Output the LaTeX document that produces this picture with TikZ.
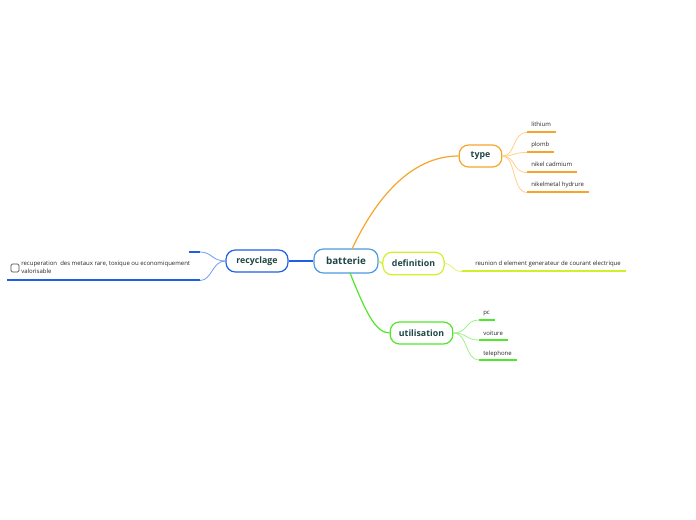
\documentclass[tikz,border=0pt]{standalone}
\usepackage{fontspec}
\setmainfont{Open Sans}
\begin{document}
\begin{tikzpicture}[x=0.75pt,y=-0.75pt,
  mainbox/.style={draw, line width=0.9pt, rounded corners=7pt, fill=white, text=txtc, font=\fontsize{6.6}{8}\selectfont\bfseries, inner sep=0pt},
  leaf/.style={font=\fontsize{4.5}{5.6}\selectfont, text=black!85, anchor=base west, inner sep=0pt},
  ul/.style={line width=1.5pt},
  lc/.style={line width=0.6pt}]
\definecolor{txtc}{HTML}{1E4646}
\definecolor{cblue}{HTML}{4A9AE0}
\definecolor{rblue}{HTML}{1F5FE6}
\definecolor{lblue}{HTML}{6E9CF0}
\definecolor{corange}{HTML}{F7A52A}
\definecolor{lorange}{HTML}{FFD18A}
\definecolor{cyel}{HTML}{D2F02A}
\definecolor{lyel}{HTML}{E2F47A}
\definecolor{cgreen}{HTML}{4EE82A}
\definecolor{lgreen}{HTML}{9FF08A}
\useasboundingbox (0,0) rectangle (696,520);

% main nodes
\node[mainbox, draw=cblue, minimum width=48pt, minimum height=18pt, font=\fontsize{7.4}{9}\selectfont\bfseries] (bat) at (346,261) {batterie};
\node[mainbox, draw=corange, minimum width=32pt, minimum height=16.5pt] (type) at (480.5,156) {type};
\node[mainbox, draw=cyel, minimum width=46pt, minimum height=17pt] (def) at (413.5,263.5) {definition};
\node[mainbox, draw=cgreen, minimum width=47pt, minimum height=16.5pt] (util) at (421.5,333) {utilisation};
\node[mainbox, draw=rblue, minimum width=46.5pt, minimum height=16.5pt] (rec) at (257,261) {recyclage};

% main connectors
\coordinate (batT) at (352,249);
\coordinate (batB) at (350,273);
\draw[corange, line width=0.9pt] (batT) .. controls (375,200) and (410,156) .. (type.west);
\draw[cyel, line width=0.9pt] (bat.east) -- (def.west);
\draw[cgreen, line width=0.9pt] (batB) .. controls (365,310) and (375,333) .. (util.west);
\draw[rblue, line width=0.9pt] (bat.west) -- (rec.east);

% type leaves
\coordinate (t1a) at (527,132.5); \coordinate (t1b) at (556,132.5);
\coordinate (t2a) at (527,152.5); \coordinate (t2b) at (554,152.5);
\coordinate (t3a) at (527,172.5); \coordinate (t3b) at (577,172.5);
\coordinate (t4a) at (527,192.5); \coordinate (t4b) at (589,192.5);
\draw[lorange, lc] (type.east) .. controls (516,156) and (512,132.5) .. (t1a);
\draw[lorange, lc] (type.east) .. controls (516,156) and (512,152.5) .. (t2a);
\draw[lorange, lc] (type.east) .. controls (516,156) and (512,172.5) .. (t3a);
\draw[lorange, lc] (type.east) .. controls (516,156) and (512,192.5) .. (t4a);
\node[leaf] (l1) at (531,127) {lithium};
\node[leaf] (l2) at (531,147) {plomb};
\node[leaf] (l3) at (531,167) {nikel cadmium};
\node[leaf] (l4) at (531,187) {nikelmetal hydrure};
\foreach \a/\b in {t1a/t1b,t2a/t2b,t3a/t3b,t4a/t4b}{\draw[corange, ul] (\a) -- (\b);}

% definition leaf
\coordinate (d1a) at (462,271.5); \coordinate (d1b) at (626,271.5);
\draw[lyel, lc] (def.east) .. controls (453,264) and (452,271.5) .. (d1a);
\draw[cyel, ul] (d1a) -- (d1b);
\node[leaf] (dl) at (475,266) {reunion d element generateur de courant electrique};

% utilisation leaves
\coordinate (u1a) at (479,320); \coordinate (u1b) at (495,320);
\coordinate (u2a) at (479,340); \coordinate (u2b) at (508,340);
\coordinate (u3a) at (479,360); \coordinate (u3b) at (517,360);
\draw[lgreen, lc] (util.east) .. controls (468,333) and (465,320) .. (u1a);
\draw[lgreen, lc] (util.east) .. controls (468,333) and (465,340) .. (u2a);
\draw[lgreen, lc] (util.east) .. controls (468,333) and (465,360) .. (u3a);
\node[leaf] (p1) at (483,315) {pc};
\node[leaf] (p2) at (483,335) {voiture};
\node[leaf] (p3) at (483,355) {telephone};
\foreach \a/\b in {u1a/u1b,u2a/u2b,u3a/u3b}{\draw[cgreen, ul] (\a) -- (\b);}

% recyclage leaf
\coordinate (r1a) at (200,252); \coordinate (r1b) at (189,252);
\coordinate (r2a) at (200,280.5); \coordinate (r2b) at (7,280.5);
\draw[lblue, lc] (rec.west) .. controls (212,261) and (212,252) .. (r1a);
\draw[lblue, lc] (rec.west) .. controls (212,261) and (212,280.5) .. (r2a);
\draw[rblue, ul] (r1a) -- (r1b);
\draw[rblue, ul] (r2a) -- (r2b);
\node[draw=black!70, line width=0.5pt, rounded corners=1pt, minimum size=6pt, inner sep=0pt] (cb) at (15,268) {};
\node[leaf, align=left, anchor=north west] (rl) at (21,261) {recuperation\ \ des metaux rare, toxique ou economiquement\\valorisable};
\end{tikzpicture}
\end{document}
